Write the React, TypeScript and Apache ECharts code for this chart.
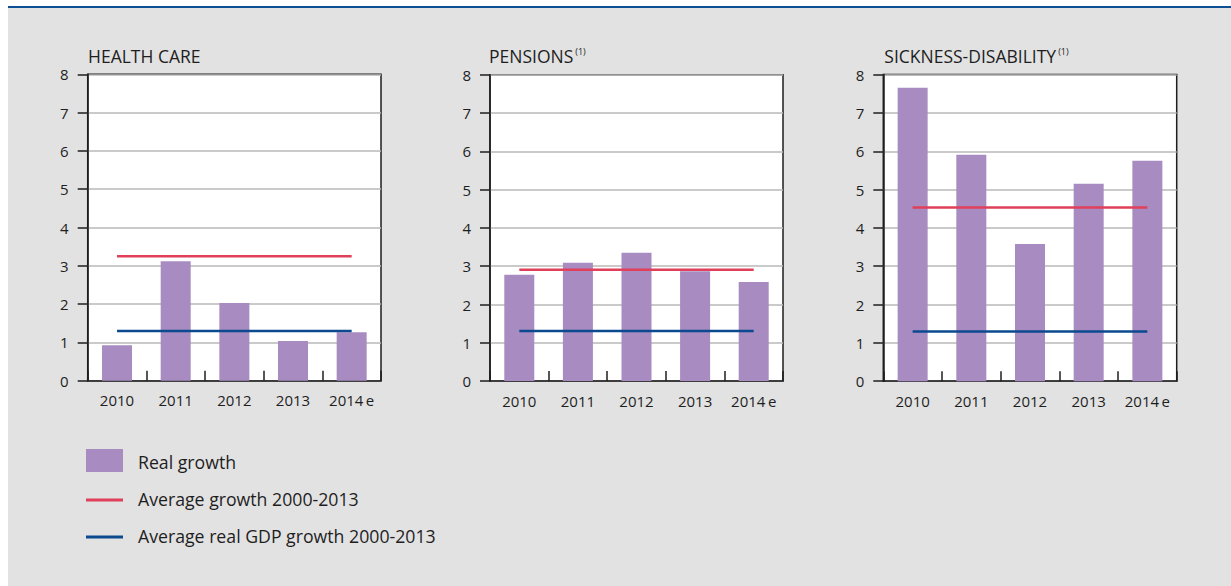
import React, { useEffect, useRef } from "react";
import * as echarts from "echarts";

const years = ["2010", "2011", "2012", "2013", "2014\u2009e"];
const panelTitles = ["HEALTH CARE", "PENSIONS", "SICKNESS-DISABILITY"];
const panelNotes = ["", "(1)", "(1)"];
const healthCare = [0.93, 3.12, 2.03, 1.04, 1.27];
const pensions = [2.78, 3.09, 3.35, 2.87, 2.59];
const sicknessDisability = [7.66, 5.91, 3.58, 5.15, 5.75];
const avgGrowth = [3.25, 2.91, 4.53];
const avgGdpGrowth = [1.3, 1.31, 1.3];
const yTicks = [0, 1, 2, 3, 4, 5, 6, 7, 8];
const legendLabels = ["Real growth", "Average growth 2000-2013", "Average real GDP growth 2000-2013"];

const FONT = "'Open Sans', 'Noto Sans', sans-serif";
const PURPLE = "#a78bc1";
const RED = "#e0405a";
const BLUE = "#0b4a8e";
const INK = "#1e1e1e";

export default function App() {
  const ref = useRef<HTMLDivElement>(null);
  useEffect(() => {
    if (!ref.current) return;
    const chart = echarts.init(ref.current, null, { renderer: "svg" });
    const bars = [healthCare, pensions, sicknessDisability];
    const grids = [
      { left: 79.7, top: 68.3, width: 293.3, height: 306.5 },
      { left: 482, top: 68.8, width: 293, height: 306.3 },
      { left: 875.3, top: 68.6, width: 293.4, height: 306.6 },
    ];
    const titleX = [80, 481, 876.3];
    const series: any[] = [];
    bars.forEach((b, i) => {
      series.push({
        type: "bar",
        name: legendLabels[0],
        xAxisIndex: i,
        yAxisIndex: i,
        data: b,
        barWidth: 30,
        itemStyle: { color: PURPLE },
        z: 2,
      });
      series.push({
        type: "line",
        name: legendLabels[1],
        xAxisIndex: i,
        yAxisIndex: i,
        data: years.map(() => avgGrowth[i]),
        showSymbol: false,
        symbol: "none",
        lineStyle: { color: RED, width: 2.5 },
        z: 5,
      });
      series.push({
        type: "line",
        name: legendLabels[2],
        xAxisIndex: i,
        yAxisIndex: i,
        data: years.map(() => avgGdpGrowth[i]),
        showSymbol: false,
        symbol: "none",
        lineStyle: { color: BLUE, width: 2.5 },
        z: 5,
      });
    });

    const graphic: any[] = [
      { type: "rect", shape: { x: 0, y: 0, width: 1223, height: 2 }, style: { fill: "#0d4f93" } },
    ];
    panelTitles.forEach((t, i) => {
      graphic.push({
        type: "text",
        x: titleX[i],
        y: 50,
        style: {
          text: panelNotes[i] ? `{a|${t}}{s|${panelNotes[i]}}` : `{a|${t}}`,
          verticalAlign: "middle",
          rich: {
            a: { fontSize: 17.5, fontFamily: FONT, fill: INK, color: INK },
            s: { fontSize: 9, fontFamily: FONT, fill: INK, color: INK, verticalAlign: "top", padding: [0, 0, 6, 2] },
          },
        },
      });
    });
    // legend
    graphic.push({ type: "rect", shape: { x: 78, y: 443, width: 37, height: 23 }, style: { fill: PURPLE } });
    graphic.push({ type: "rect", shape: { x: 78, y: 492.5, width: 37, height: 3 }, style: { fill: RED } });
    graphic.push({ type: "rect", shape: { x: 78, y: 529.5, width: 37, height: 3 }, style: { fill: BLUE } });
    [456, 493, 530].forEach((y, i) => {
      graphic.push({
        type: "text",
        x: 130,
        y,
        style: {
          text: legendLabels[i],
          fontSize: 17.7,
          fontFamily: FONT,
          fill: INK,
          verticalAlign: "middle",
        },
      });
    });

    chart.setOption({
      animation: false,
      backgroundColor: "#e2e2e2",
      grid: grids.map((g) => ({
        ...g,
        show: true,
        backgroundColor: "#fff",
        borderColor: INK,
        borderWidth: 1.5,
      })),
      xAxis: grids.map((_, i) => ({
        type: "category",
        gridIndex: i,
        data: years,
        boundaryGap: true,
        axisLine: { show: true, lineStyle: { color: INK, width: 1.5 } },
        axisTick: { show: true, inside: true, interval: 0, length: 10, lineStyle: { color: INK, width: 1.5 } },
        axisLabel: { fontSize: 15, color: INK, fontFamily: FONT, margin: 12, interval: 0 },
        splitLine: { show: false },
      })),
      yAxis: grids.map((_, i) => ({
        type: "value",
        gridIndex: i,
        min: yTicks[0],
        max: yTicks[yTicks.length - 1],
        interval: 1,
        axisLine: { show: true, lineStyle: { color: INK, width: 1.5 } },
        axisTick: { show: true, inside: false, length: 10, lineStyle: { color: INK, width: 1.5 } },
        axisLabel: { fontSize: 15, color: INK, fontFamily: FONT, margin: 19 },
        splitLine: { show: true, lineStyle: { color: "#b8b8b8", width: 1.5 } },
      })),
      series,
      graphic,
    });
    return () => chart.dispose();
  }, []);
  return (
    <div
      ref={ref}
      style={{ position: "absolute", left: 8, top: 6, width: 1223, height: 580 }}
    />
  );
}
